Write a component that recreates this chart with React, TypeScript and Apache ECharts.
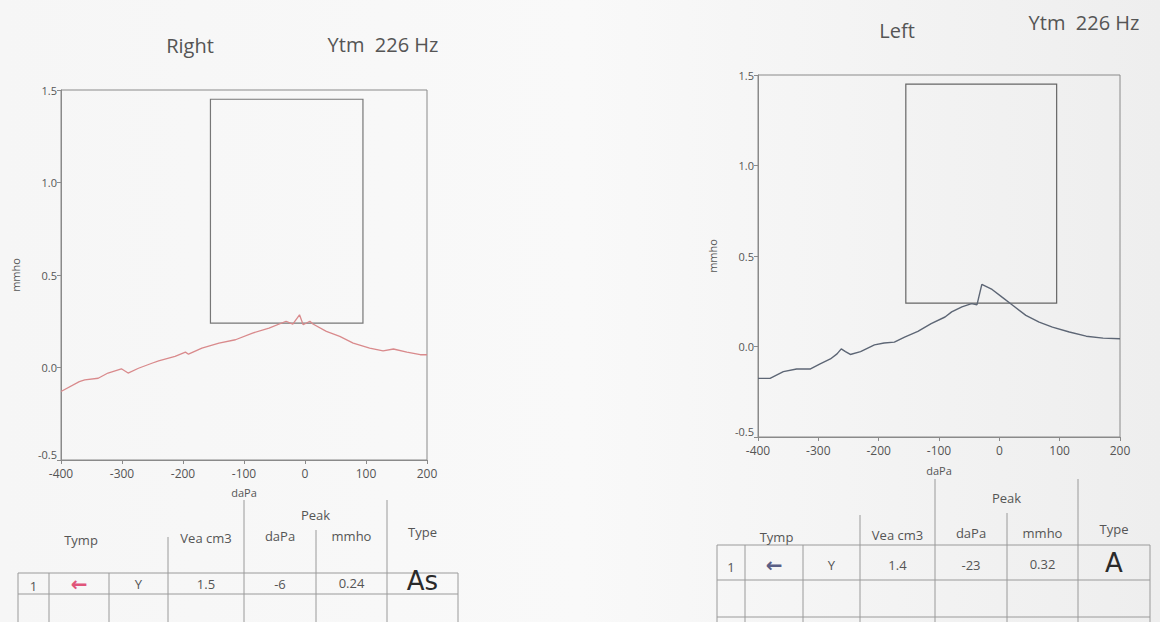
import React, { useEffect, useRef } from "react";
import * as echarts from "echarts";

// ---- data ----
const xTicks = [-400, -300, -200, -100, 0, 100, 200];
const yTicks = [-0.5, 0.0, 0.5, 1.0, 1.5];

const rightX = [-400, -370, -361, -339, -323, -301, -290, -273, -251, -240, -213, -196, -191, -169, -141, -114, -86, -59, -31, -20, -9, -3, 8, 13, 35, 57, 79, 106, 128, 145, 167, 189, 200];
const rightY = [-0.13, -0.076, -0.067, -0.058, -0.03, -0.007, -0.03, -0.004, 0.023, 0.036, 0.06, 0.083, 0.072, 0.105, 0.132, 0.15, 0.186, 0.213, 0.25, 0.235, 0.285, 0.231, 0.25, 0.235, 0.195, 0.168, 0.132, 0.105, 0.09, 0.1, 0.083, 0.069, 0.069];

const leftX = [-400, -380, -358, -336, -313, -297, -280, -269, -262, -255, -247, -230, -207, -191, -174, -157, -135, -113, -90, -79, -62, -46, -37, -29, -12, 4, 21, 44, 66, 88, 116, 144, 172, 200];
const leftY = [-0.176, -0.176, -0.139, -0.124, -0.124, -0.096, -0.069, -0.041, -0.013, -0.028, -0.044, -0.028, 0.009, 0.019, 0.024, 0.052, 0.083, 0.126, 0.163, 0.191, 0.219, 0.237, 0.231, 0.343, 0.315, 0.274, 0.231, 0.172, 0.135, 0.107, 0.08, 0.057, 0.046, 0.043];

const boxX = [-155, 95];
const boxY = [0.24, 1.45];

const tableHeaders = ["Tymp", "Vea cm3", "daPa", "mmho", "Type"];
const peakHeader = "Peak";
const rightRow = ["1", "←", "Y", "1.5", "-6", "0.24", "As"];
const leftRow = ["1", "←", "Y", "1.4", "-23", "0.32", "A"];

const FONT = "'Open Sans', 'Noto Sans', sans-serif";
const TXT = "#555";
const LINE = "#8a8a8a";

function pairs(xs: number[], ys: number[]) {
  return xs.map((x, i) => [x, ys[i]]);
}

function axisPair(gridIndex: number, nameGapX: number) {
  const xAxis = {
    type: "value",
    gridIndex,
    min: xTicks[0],
    max: xTicks[xTicks.length - 1],
    interval: 100,
    name: "daPa",
    nameLocation: "middle",
    nameGap: nameGapX,
    nameTextStyle: { color: TXT, fontSize: 11, fontFamily: FONT },
    axisLine: { show: true, onZero: false, lineStyle: { color: LINE } },
    axisTick: { show: true, length: 4, lineStyle: { color: LINE } },
    axisLabel: { color: TXT, fontSize: 12, fontFamily: FONT, margin: 7 },
    splitLine: { show: false },
  };
  const yAxis = {
    type: "value",
    gridIndex,
    min: yTicks[0],
    max: yTicks[yTicks.length - 1],
    interval: 0.5,
    name: "mmho",
    nameLocation: "middle",
    nameGap: 40,
    nameRotate: 90,
    nameTextStyle: { color: TXT, fontSize: 11, fontFamily: FONT },
    axisLine: { show: true, onZero: false, lineStyle: { color: LINE } },
    axisTick: { show: true, length: 4, lineStyle: { color: LINE } },
    axisLabel: {
      color: TXT, fontSize: 11, fontFamily: FONT, margin: 4,
      verticalAlignMinLabel: "bottom",
      formatter: (v: number) => v.toFixed(1),
    },
    splitLine: { show: false },
  };
  return { xAxis, yAxis };
}

function text(x: number, y: number, s: string, size = 12, color = TXT, extra: any = {}) {
  return {
    type: "text",
    x,
    y,
    silent: true,
    style: { text: s, fill: color, fontSize: size, fontFamily: FONT, textAlign: "center", textVerticalAlign: "middle", ...extra },
  };
}
function hline(x1: number, x2: number, y: number) {
  return { type: "line", silent: true, shape: { x1, y1: y, x2, y2: y }, style: { stroke: "#9a9a9a", lineWidth: 1 } };
}
function vline(x: number, y1: number, y2: number) {
  return { type: "line", silent: true, shape: { x1: x, y1, x2: x, y2 }, style: { stroke: "#9a9a9a", lineWidth: 1 } };
}

function buildTable(cfg: {
  cols: number[]; rowTop: number; rowMid: number; rowBottom: number | null; rowTextY: number;
  veaTop: number; peakTop: number; innerTop: number; headerY: number; peakY: number;
  row: string[]; arrowColor: string; typeY: number;
}) {
  const c = cfg.cols;
  const els: any[] = [];
  els.push(hline(c[0], c[7], cfg.rowTop));
  els.push(hline(c[0], c[7], cfg.rowMid));
  if (cfg.rowBottom !== null) els.push(hline(c[0], c[7], cfg.rowBottom));
  els.push(vline(c[0], cfg.rowTop, 622));
  els.push(vline(c[1], cfg.rowTop, 622));
  els.push(vline(c[2], cfg.rowTop, 622));
  els.push(vline(c[3], cfg.veaTop, 622));
  els.push(vline(c[4], cfg.peakTop, 622));
  els.push(vline(c[5], cfg.innerTop, 622));
  els.push(vline(c[6], cfg.peakTop, 622));
  els.push(vline(c[7], cfg.rowTop, 622));
  els.push(text((c[4] + c[6]) / 2, cfg.peakY, peakHeader, 13));
  els.push(text((c[0] + c[3]) / 2 - 12, cfg.headerY + 4, tableHeaders[0], 13));
  els.push(text((c[3] + c[4]) / 2, cfg.headerY + 2, tableHeaders[1], 13));
  els.push(text((c[4] + c[5]) / 2, cfg.headerY, tableHeaders[2], 13));
  els.push(text((c[5] + c[6]) / 2, cfg.headerY, tableHeaders[3], 13));
  els.push(text((c[6] + c[7]) / 2, cfg.headerY - 4, tableHeaders[4], 13));
  const y = cfg.rowTextY;
  els.push(text((c[0] + c[1]) / 2, y + 2, cfg.row[0], 13));
  els.push(text((c[1] + c[2]) / 2, y, cfg.row[1], 20, cfg.arrowColor, { fontFamily: "DejaVu Sans", fontWeight: "bold" }));
  els.push(text((c[2] + c[3]) / 2, y, cfg.row[2], 13));
  els.push(text((c[3] + c[4]) / 2, y, cfg.row[3], 13));
  els.push(text((c[4] + c[5]) / 2, y, cfg.row[4], 13));
  els.push(text((c[5] + c[6]) / 2, y - 1, cfg.row[5], 13));
  els.push(text((c[6] + c[7]) / 2, cfg.typeY, cfg.row[6], 26, "#2a2a2a", { fontFamily: "'DejaVu Sans'" }));
  return els;
}

export default function App() {
  const ref = useRef<HTMLDivElement>(null);
  useEffect(() => {
    if (!ref.current) return;
    const chart = echarts.init(ref.current, null, { renderer: "svg" });
    const r = axisPair(0, 27);
    const l = axisPair(1, 28);
    const boxArea = (color: string) => ({
      silent: true,
      itemStyle: { color: "rgba(0,0,0,0)", borderColor: color, borderWidth: 1.2 },
      data: [[{ coord: [boxX[0], boxY[0]] }, { coord: [boxX[1], boxY[1]] }]],
    });
    const graphic: any[] = [
      text(190, 45, "Right", 20),
      text(383, 44, "Ytm  226 Hz", 20),
      text(897, 30, "Left", 20),
      text(1084, 22, "Ytm  226 Hz", 20),
      ...buildTable({
        cols: [18, 49, 109, 168, 244, 316, 387, 458],
        rowTop: 573, rowMid: 594, rowBottom: null, rowTextY: 584,
        veaTop: 537, peakTop: 500, innerTop: 530, headerY: 536, peakY: 515,
        row: rightRow, arrowColor: "#e0557a", typeY: 581,
      }),
      ...buildTable({
        cols: [717, 745, 803, 860, 935, 1007, 1078, 1150],
        rowTop: 545, rowMid: 580, rowBottom: 617, rowTextY: 565,
        veaTop: 515, peakTop: 479, innerTop: 513, headerY: 533, peakY: 498,
        row: leftRow, arrowColor: "#5a5f86", typeY: 563,
      }),
    ];
    chart.setOption({
      animation: false,
      backgroundColor: {
        type: "linear", x: 0, y: 0, x2: 1, y2: 0,
        colorStops: [
          { offset: 0, color: "#f6f6f6" },
          { offset: 0.5, color: "#f9f9f9" },
          { offset: 1, color: "#eeeeee" },
        ],
      },
      grid: [
        { left: 61, top: 90, width: 366, height: 370, show: true, borderColor: LINE, borderWidth: 1, backgroundColor: "rgba(0,0,0,0)" },
        { left: 758, top: 75, width: 362, height: 362, show: true, borderColor: LINE, borderWidth: 1, backgroundColor: "rgba(0,0,0,0)" },
      ],
      xAxis: [r.xAxis, l.xAxis],
      yAxis: [r.yAxis, l.yAxis],
      series: [
        {
          type: "line",
          xAxisIndex: 0,
          yAxisIndex: 0,
          data: pairs(rightX, rightY),
          showSymbol: false,
          lineStyle: { color: "#d98a8c", width: 1.3 },
          markArea: boxArea("#777"),
          z: 3,
        },
        {
          type: "line",
          xAxisIndex: 1,
          yAxisIndex: 1,
          data: pairs(leftX, leftY),
          showSymbol: false,
          lineStyle: { color: "#5d6675", width: 1.4 },
          markArea: boxArea("#666"),
          z: 3,
        },
      ],
      graphic,
    });
    return () => chart.dispose();
  }, []);
  return (
    <div
      ref={ref}
      style={{ position: "absolute", left: 0, top: 0, width: 1160, height: 622 }}
    />
  );
}
